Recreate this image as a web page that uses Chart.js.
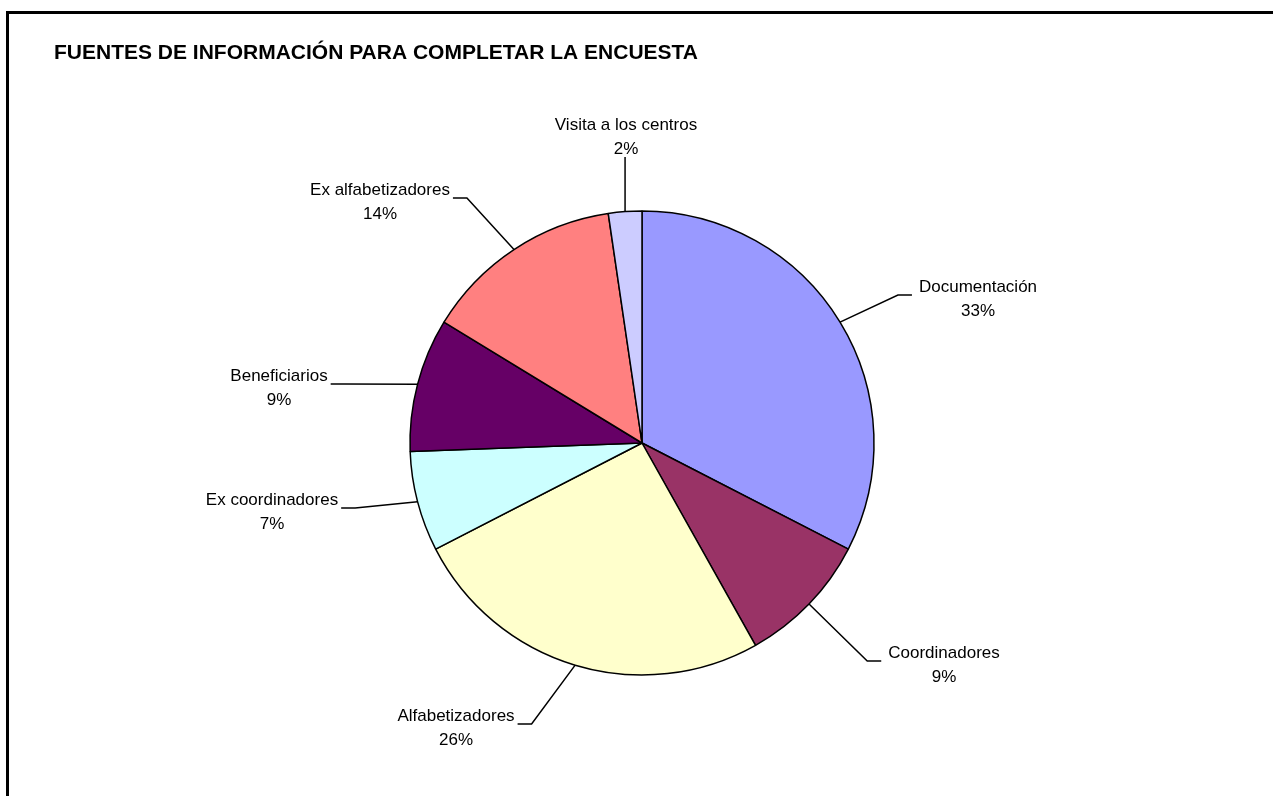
<!DOCTYPE html>
<html>
<head>
<meta charset="utf-8">
<script src="https://cdn.jsdelivr.net/npm/chart.js@4.4.1/dist/chart.umd.min.js"></script>
<style>
  html, body { margin: 0; padding: 0; background: #fff; }
  #wrap { position: relative; width: 1273px; height: 796px; }
</style>
</head>
<body>
<div id="wrap"><canvas id="myChart" width="1273" height="796"></canvas></div>
<script>
const chartTitle = 'FUENTES DE INFORMACIÓN PARA COMPLETAR LA ENCUESTA';
const categories = ['Documentación', 'Coordinadores', 'Alfabetizadores', 'Ex coordinadores', 'Beneficiarios', 'Ex alfabetizadores', 'Visita a los centros'];
const responses = [14, 4, 11, 3, 4, 6, 1];
const sliceColors = ['#9999FF', '#993366', '#FFFFCC', '#CCFFFF', '#660066', '#FF8080', '#CCCCFF'];

// where each data label sits, relative to the pie centre (px)
const labelOffsets = [[336, -156], [302, 210], [-186, 273], [-370, 57], [-363, -67], [-262, -253], [-16, -318]];

const total = responses.reduce((a, b) => a + b, 0);
const percents = responses.map(v => Math.round(v / total * 100) + '%');

const FONT = '"Liberation Sans", Arial, sans-serif';

const labelPlugin = {
  id: 'excelLabels',
  afterDraw(chart) {
    const c = chart.ctx;
    c.save();

    // frame (only top and left edges are visible)
    c.strokeStyle = '#000';
    c.lineWidth = 3;
    c.beginPath();
    c.moveTo(7.5, 800);
    c.lineTo(7.5, 12.5);
    c.lineTo(1280, 12.5);
    c.stroke();

    // title
    c.fillStyle = '#000';
    c.font = 'bold 21px ' + FONT;
    c.textAlign = 'left';
    c.textBaseline = 'middle';
    c.fillText(chartTitle, 54, 53);

    const meta = chart.getDatasetMeta(0);
    c.font = '17px ' + FONT;
    c.lineWidth = 1.5;
    meta.data.forEach((arc, i) => {
      const mid = (arc.startAngle + arc.endAngle) / 2;
      const R = arc.outerRadius;
      const ex = arc.x + Math.cos(mid) * R;
      const ey = arc.y + Math.sin(mid) * R;
      const tx = arc.x + labelOffsets[i][0];
      const ty = arc.y + labelOffsets[i][1];
      const w = c.measureText(categories[i]).width;

      c.textAlign = 'center';
      c.fillText(categories[i], tx, ty);
      c.fillText(percents[i], tx, ty + 24);

      c.beginPath();
      if (Math.abs(labelOffsets[i][0]) < 40) {
        c.moveTo(ex, ey);
        c.lineTo(ex, ty + 32);
      } else {
        const right = labelOffsets[i][0] > 0;
        const side = right ? -1 : 1;
        const edge = tx + side * (w / 2 + (right ? 7 : 3));
        const ly = ty + 8;
        c.moveTo(ex, ey);
        c.lineTo(edge + side * 14, ly);
        c.lineTo(edge, ly);
      }
      c.stroke();
    });
    c.restore();
  }
};

const chart = new Chart(document.getElementById('myChart'), {
  type: 'pie',
  data: {
    labels: categories,
    datasets: [{
      data: responses,
      backgroundColor: sliceColors,
      borderColor: '#000',
      borderWidth: 1.5,
      hoverOffset: 0,
      radius: 232
    }]
  },
  options: {
    responsive: false,
    animation: false,
    events: [],
    layout: { padding: { left: 11, right: 0, top: 90, bottom: 0 } },
    plugins: {
      legend: { display: false },
      tooltip: { enabled: false }
    }
  },
  plugins: [labelPlugin]
});
</script>
</body>
</html>
